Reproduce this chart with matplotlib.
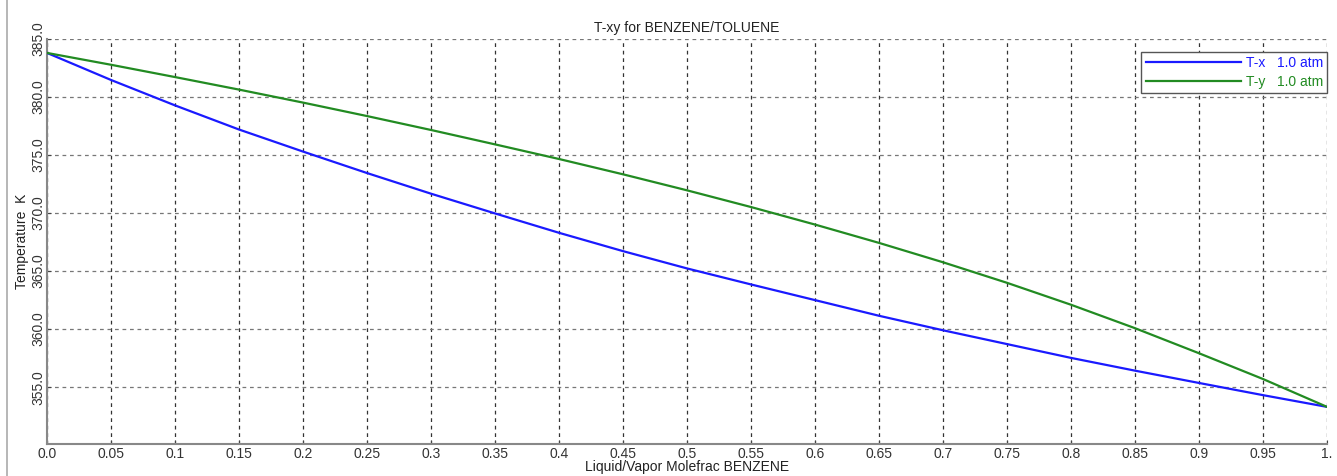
import matplotlib
matplotlib.use("Agg")
import matplotlib.pyplot as plt
from matplotlib.lines import Line2D

plt.rcParams['font.family'] = ['Liberation Sans', 'DejaVu Sans']

x_frac = [0.0, 0.05, 0.1, 0.15, 0.2, 0.25, 0.3, 0.35, 0.4, 0.45, 0.5,
          0.55, 0.6, 0.65, 0.7, 0.75, 0.8, 0.85, 0.9, 0.95, 1.0]
T_x = [383.8, 381.47, 379.28, 377.2, 375.3, 373.45, 371.67, 369.97, 368.3, 366.72, 365.23,
       363.85, 362.5, 361.15, 359.9, 358.71, 357.52, 356.42, 355.36, 354.31, 353.3]
T_y = [383.8, 382.78, 381.72, 380.64, 379.52, 378.36, 377.16, 375.92, 374.66, 373.34, 371.96,
       370.52, 369.01, 367.43, 365.76, 363.99, 362.1, 360.08, 357.92, 355.7, 353.3]

x_ticks = [0.0, 0.05, 0.1, 0.15, 0.2, 0.25, 0.3, 0.35, 0.4, 0.45, 0.5,
           0.55, 0.6, 0.65, 0.7, 0.75, 0.8, 0.85, 0.9, 0.95, 1.0]
x_tick_labels = ["0.0", "0.05", "0.1", "0.15", "0.2", "0.25", "0.3", "0.35", "0.4", "0.45", "0.5",
                 "0.55", "0.6", "0.65", "0.7", "0.75", "0.8", "0.85", "0.9", "0.95", "1."]
y_ticks = [355.0, 360.0, 365.0, 370.0, 375.0, 380.0, 385.0]
y_tick_labels = ["355.0", "360.0", "365.0", "370.0", "375.0", "380.0", "385.0"]

fig = plt.figure(figsize=(13.37, 4.76), dpi=100)
ax = fig.add_axes([47/1337, 1-444/476, 1280/1337, 405/476])

ax.plot(x_frac, T_x, color='#1a1aff', lw=1.6, label='T-x   1.0 atm', zorder=3)
ax.plot(x_frac, T_y, color='#228B22', lw=1.6, label='T-y   1.0 atm', zorder=3)

ax.set_xlim(0, 1.0)
ax.set_ylim(350.1, 385)
ax.set_xticks(x_ticks)
ax.set_xticklabels(x_tick_labels, fontsize=10)
ax.set_yticks(y_ticks)
ax.set_yticklabels(y_tick_labels, fontsize=10, rotation=90, va='center')

ax.xaxis.grid(True, linestyle=(0, (3, 3)), color='#333333', lw=0.9)
ax.yaxis.grid(True, linestyle=(0, (3, 3)), color='#777777', lw=0.9)
ax.set_axisbelow(True)

for s in ['top', 'right']:
    ax.spines[s].set_visible(False)
for s in ['left', 'bottom']:
    ax.spines[s].set_color('#888888')
    ax.spines[s].set_linewidth(1.5)

ax.tick_params(axis='x', direction='in', length=3, color='#444444', pad=2, labelcolor='#333333')
ax.tick_params(axis='y', direction='in', length=3, color='#444444', pad=1, labelcolor='#333333')

ax.set_title('T-xy for BENZENE/TOLUENE', fontsize=10, color='#222222', pad=5)
ax.set_xlabel('Liquid/Vapor Molefrac BENZENE', fontsize=10, color='#222222', va='center')
ax.xaxis.set_label_coords(0.5, -(467 - 444) / 405)
ax.set_ylabel('Temperature  K', fontsize=10, color='#222222', va='center')
ax.yaxis.set_label_coords(-(47 - 22.5) / 1280, 0.5)

leg = ax.legend(loc='upper right', bbox_to_anchor=(1.0, 1 - 13/405), fontsize=10,
                handlelength=6.9, handletextpad=0.3, labelcolor='linecolor',
                fancybox=False, framealpha=1, edgecolor='#555555',
                borderpad=0.3, labelspacing=0.35, borderaxespad=0.0)
leg.get_frame().set_linewidth(1.0)

fig.add_artist(Line2D([7/1337, 7/1337], [0, 1], transform=fig.transFigure,
                      color='#aaaaaa', lw=1.2))

fig.savefig('out.png', dpi=100)
